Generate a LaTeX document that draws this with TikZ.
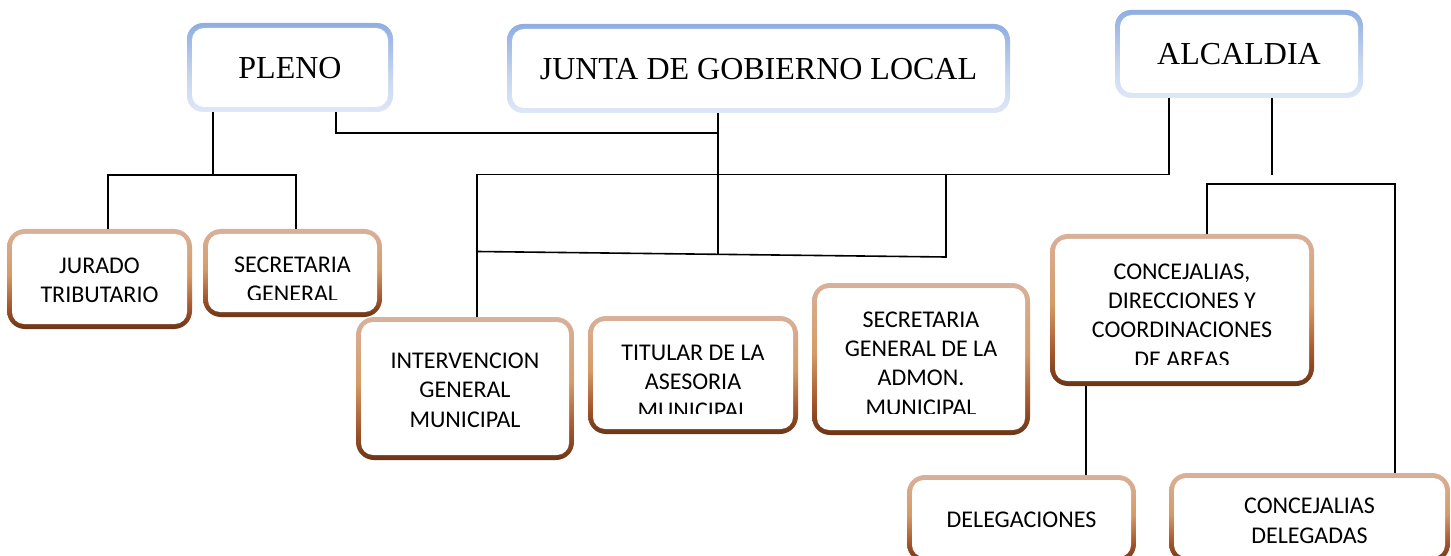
\documentclass[tikz,border=0pt]{standalone}
\usepackage{fontspec}
\setmainfont{Liberation Serif}
\newfontfamily\carl{Carlito}
\definecolor{btop}{HTML}{D8B19B}
\definecolor{bmidA}{HTML}{D59B66}
\definecolor{bmidB}{HTML}{A4562C}
\definecolor{bbot}{HTML}{6B3517}
\definecolor{ltop}{HTML}{8FAEE1}
\definecolor{lbot}{HTML}{DEE7F6}
\pgfdeclareverticalshading{brownsh}{100bp}{color(0bp)=(bbot); color(25bp)=(bbot); color(36bp)=(bmidB); color(52bp)=(bmidA); color(75bp)=(btop); color(100bp)=(btop)}
\pgfdeclareverticalshading{bluesh}{100bp}{color(0bp)=(lbot); color(25bp)=(lbot); color(45bp)=(lbot!70!ltop); color(75bp)=(ltop); color(100bp)=(ltop)}
\begin{document}
\begin{tikzpicture}[x=1pt,y=-1pt,
  boxbase/.style={rectangle, inner sep=0pt, shade,
    path picture={\fill[white, rounded corners=12pt]
      ([shift={(5,5)}]path picture bounding box.north west) rectangle
      ([shift={(-5,-5)}]path picture bounding box.south east);}},
  brownbox/.style={boxbase, shading=brownsh, rounded corners=18pt},
  bluebox/.style={boxbase, shading=bluesh, rounded corners=16pt},
  conn/.style={line width=1.6pt, black},
  ttl/.style={anchor=base, inner sep=0pt, font=\fontsize{32}{38}\selectfont},
  txt/.style={anchor=base, inner sep=0pt, font=\carl\fontsize{24}{29}\selectfont}]
\clip (0,0) rectangle (1451,556);
\fill[white] (0,0) rectangle (1451,556);
% top boxes
\node[bluebox, minimum width=206pt, minimum height=89pt] (pleno) at (290,67.5) {};
\node[bluebox, minimum width=503pt, minimum height=89pt] (junta) at (758.5,68.5) {};
\node[bluebox, minimum width=248pt, minimum height=88pt] (alcaldia) at (1239,54) {};
% lower boxes
\node[brownbox, minimum width=185pt, minimum height=100pt] (jurado) at (99.5,279) {};
\node[brownbox, minimum width=179pt, minimum height=88pt] (secgen) at (292.5,273) {};
\node[brownbox, minimum width=218pt, minimum height=143pt] (interv) at (465,388.5) {};
\node[brownbox, minimum width=210pt, minimum height=118pt] (titular) at (693,375) {};
\node[brownbox, minimum width=218pt, minimum height=152pt] (secadm) at (921,359) {};
\node[brownbox, minimum width=264pt, minimum height=152pt] (concdir) at (1182,310) {};
\node[brownbox, minimum width=229pt, minimum height=87pt] (deleg) at (1021.5,518.5) {};
\node[brownbox, minimum width=281pt, minimum height=89pt] (concdel) at (1309.5,517.5) {};
% titles
\node[ttl] (tpleno) at (290,79) {PLENO};
\node[ttl] (tjunta) at (758.5,80) {JUNTA DE GOBIERNO LOCAL};
\node[ttl] (talc) at (1239,65) {ALCALDIA};
% body texts
\node[txt] (tjur1) at (99.5,273) {JURADO};
\node[txt] (tjur2) at (99.5,302) {TRIBUTARIO};
\node[txt] (tsg1) at (292.5,272) {SECRETARIA};
\begin{scope}
\clip (205,280) rectangle (380,299.5);
\node[txt] (tsg2) at (292.5,301) {GENERAL};
\end{scope}
\node[txt] (tin1) at (465,368) {INTERVENCION};
\node[txt] (tin2) at (465,397) {GENERAL};
\node[txt] (tin3) at (465,427) {MUNICIPAL};
\node[txt] (tti1) at (693,360) {TITULAR DE LA};
\node[txt] (tti2) at (693,389) {ASESORIA};
\begin{scope}
\clip (590,395) rectangle (796,413);
\node[txt] (tti3) at (693,418) {MUNICIPAL};
\end{scope}
\node[txt] (tsa1) at (921,327) {SECRETARIA};
\node[txt] (tsa2) at (921,356) {GENERAL DE LA};
\node[txt] (tsa3) at (921,385) {ADMON.};
\begin{scope}
\clip (814,392) rectangle (1028,413.5);
\node[txt] (tsa4) at (921,415) {MUNICIPAL};
\end{scope}
\node[txt] (tcd1) at (1182,279) {CONCEJALIAS,};
\node[txt] (tcd2) at (1182,308) {DIRECCIONES Y};
\node[txt] (tcd3) at (1182,337) {COORDINACIONES};
\begin{scope}
\clip (1052,343) rectangle (1312,364);
\node[txt] (tcd4) at (1182,367) {DE AREAS};
\end{scope}
\node[txt] (tde1) at (1021.5,527) {DELEGACIONES};
\node[txt] (tcl1) at (1309.5,513) {CONCEJALIAS};
\node[txt] (tcl2) at (1309.5,543) {DELEGADAS};
% connectors
\coordinate (p1) at (213,175);
\coordinate (p2) at (108,175);
\coordinate (p3) at (296,175);
\draw[conn] (pleno.south -| p1) -- (p1);
\draw[conn] (jurado.north -| p2) -- (p2) -- (p3) -- (secgen.north -| p3);
\coordinate (q1) at (336,133);
\coordinate (q2) at (718,133);
\coordinate (q3) at (718,253.5);
\draw[conn] (pleno.south -| q1) -- (q1) -- (q2);
\draw[conn] (junta.south -| q2) -- (q3);
\coordinate (a1) at (1169,174.5);
\coordinate (a2) at (477,174.5);
\coordinate (a3) at (946,174.5);
\coordinate (a4) at (946,257);
\coordinate (a5) at (477,251.5);
\draw[conn] (alcaldia.south -| a1) -- (a1) -- (a2) -- (interv.north -| a2);
\draw[conn] (a3) -- (a4) -- (a5);
\coordinate (b1) at (1272,175);
\coordinate (b2) at (1207,184);
\coordinate (b3) at (1395,184);
\draw[conn] (alcaldia.south -| b1) -- (b1);
\draw[conn] (concdir.north -| b2) -- (b2) -- (b3) -- (concdel.north -| b3);
\coordinate (c1) at (1086,470);
\draw[conn] (concdir.south -| c1) -- (deleg.north -| c1);
\end{tikzpicture}
\end{document}
